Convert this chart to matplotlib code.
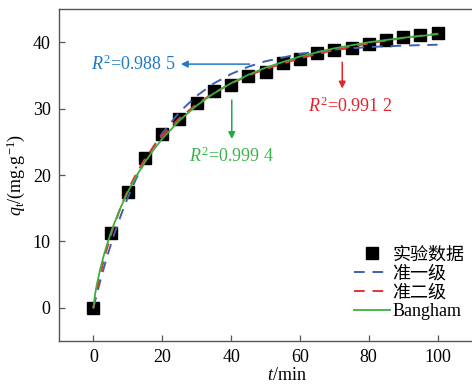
import matplotlib
matplotlib.use("Agg")
import matplotlib.pyplot as plt
from matplotlib.lines import Line2D

# Experimental data
t_exp = [0, 5, 10, 15, 20, 25, 30, 35, 40, 45, 50, 55, 60, 65, 70, 75, 80, 85, 90, 95, 100]
q_exp = [0, 11.2, 17.5, 22.5, 26.1, 28.5, 30.8, 32.6, 33.6, 34.9, 35.5, 36.8, 37.5, 38.3,
         38.8, 39.2, 39.8, 40.3, 40.8, 41.1, 41.4]

# Fitted curves
t_fit = [0, 0.5, 1, 2, 3, 4, 5, 6, 8, 10, 12.5, 15, 17.5, 20, 25, 30, 35, 40, 45, 50,
         60, 70, 80, 90, 100]
q_pfo = [0, 1.06, 2.09, 4.07, 5.95, 7.73, 9.42, 11.01, 13.96, 16.61, 19.53, 22.09, 24.33,
         26.28, 29.48, 31.92, 33.79, 35.21, 36.30, 37.13, 38.24, 38.89, 39.27, 39.49, 39.62]
q_pso = [0, 1.35, 2.63, 4.99, 7.12, 9.05, 10.81, 12.42, 15.26, 17.68, 20.26, 22.43, 24.30,
         25.91, 28.57, 30.67, 32.37, 33.78, 34.96, 35.96, 37.58, 38.83, 39.82, 40.63, 41.30]
q_bang = [0, 2.08, 3.52, 5.88, 7.87, 9.62, 11.20, 12.65, 15.21, 17.44, 19.86, 21.96, 23.81,
          25.46, 28.21, 30.46, 32.29, 33.82, 35.09, 36.16, 37.85, 39.08, 39.99, 40.67, 41.2]

legend_labels = ["实验数据", "准一级", "准二级", "Bangham"]
r2_labels = ["0.988 5", "0.991 2", "0.999 4"]

serif = ["Liberation Serif", "Noto Sans CJK SC", "DejaVu Sans"]
plt.rcParams["font.family"] = serif
plt.rcParams["mathtext.fontset"] = "custom"
plt.rcParams["mathtext.rm"] = "Liberation Serif"
plt.rcParams["mathtext.it"] = "Liberation Serif:italic"

c_blue = "#3f5fb0"
c_red = "#e3342f"
c_green = "#3fae3f"

fig = plt.figure(figsize=(4.72, 3.85), dpi=100)
ax = fig.add_axes([59 / 472, 44 / 385, 413 / 472, 332 / 385])

ax.plot(t_fit, q_pfo, color=c_blue, lw=1.4, dashes=(5.5, 4), zorder=2)
ax.plot(t_fit, q_pso, color=c_red, lw=1.4, dashes=(5.5, 4), zorder=3)
ax.plot(t_fit, q_bang, color=c_green, lw=1.3, zorder=4)
ax.plot(t_exp, q_exp, "s", color="black", ms=8, zorder=1)

ax.set_xlim(-10, 110)
ax.set_ylim(-5, 45)
ax.set_xticks([0, 20, 40, 60, 80, 100])
ax.set_yticks([0, 10, 20, 30, 40])
ax.tick_params(direction="in", length=4.5, width=0.9, color="#555555", labelsize=13,
               top=False, right=False, pad=6)
for s in ["left", "bottom", "top"]:
    ax.spines[s].set_color("#555555")
    ax.spines[s].set_linewidth(1.0)
ax.spines["right"].set_visible(False)

ax.set_xlabel(r"$\it{t}$/min", fontsize=13)
ax.set_ylabel(r"$\it{q}_{\rm t}$/(mg$\cdot$g$^{-1}$)", fontsize=13)
ax.xaxis.set_label_coords(0.552, -0.077)
ax.yaxis.set_label_coords(-0.078, 0.5)

# annotations
ax.annotate("", xy=(24.6, 36.7), xytext=(46.2, 36.7),
            arrowprops=dict(arrowstyle="-|>", color="#1f7ac6", lw=1.1, mutation_scale=10))
ax.text(24.0, 36.7, r"$R^{2}$=" + r2_labels[0], color="#1f7ac6", fontsize=13,
        ha="right", va="center")

ax.annotate("", xy=(40.2, 25.0), xytext=(40.2, 31.7),
            arrowprops=dict(arrowstyle="-|>", color="#22aa44", lw=1.1, mutation_scale=10))
ax.text(40.2, 22.8, r"$R^{2}$=" + r2_labels[2], color="#3cb44a", fontsize=13,
        ha="center", va="center")

ax.annotate("", xy=(72.3, 32.6), xytext=(72.3, 37.4),
            arrowprops=dict(arrowstyle="-|>", color="#e8202a", lw=1.1, mutation_scale=10))
ax.text(74.5, 30.4, r"$R^{2}$=" + r2_labels[1], color="#e8202a", fontsize=13,
        ha="center", va="center")

handles = [
    Line2D([], [], marker="s", color="black", ls="none", ms=8),
    Line2D([], [], color=c_blue, lw=1.4, dashes=(5.5, 4)),
    Line2D([], [], color=c_red, lw=1.4, dashes=(5.5, 4)),
    Line2D([], [], color=c_green, lw=1.3),
]
leg = ax.legend(handles, legend_labels, loc="lower right", bbox_to_anchor=(1.008, 0.03),
                frameon=False, fontsize=13, handlelength=2.0, handletextpad=0.15,
                labelspacing=0.1, borderaxespad=0.2)

fig.savefig("out.png", dpi=100)
